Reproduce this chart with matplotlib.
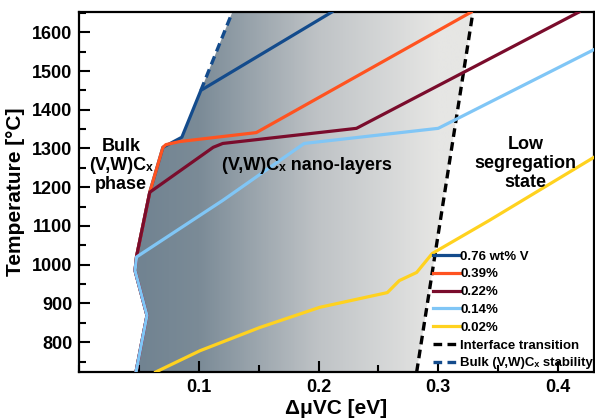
import numpy as np
import matplotlib
matplotlib.use("Agg")
import matplotlib.pyplot as plt
from matplotlib.patches import Polygon
from matplotlib.colors import LinearSegmentedColormap
from matplotlib.ticker import MultipleLocator

plt.rcParams['font.family'] = ['Liberation Sans', 'DejaVu Sans']
plt.rcParams['font.weight'] = 'bold'

# shared lower part of the left boundary (dmu in eV, T in C)
left_x = [0.0475, 0.0567, 0.0467, 0.048, 0.059]
left_t = [723, 869, 985, 1022, 1187]

v076_x = left_x + [0.070, 0.0858, 0.1017, 0.211]
v076_t = left_t + [1303, 1329, 1450, 1652]
v039_x = left_x + [0.070, 0.0725, 0.0842, 0.148, 0.3275]
v039_t = left_t + [1303, 1310, 1318, 1341, 1652]
v022_x = left_x + [0.112, 0.120, 0.2317, 0.4175]
v022_t = left_t + [1303, 1313, 1352, 1652]
v014_x = [0.0475, 0.0567, 0.0467, 0.048, 0.120, 0.188, 0.300, 0.430]
v014_t = [723, 869, 985, 1020, 1166, 1313, 1352, 1555]
v002_x = [0.064, 0.101, 0.151, 0.201, 0.2575, 0.2675, 0.282, 0.295, 0.3425, 0.430]
v002_t = [723, 778, 838, 890, 928, 959, 980, 1029, 1114, 1277]

interface_x = [0.282, 0.329]
interface_t = [723, 1652]
bulk_x = [0.1017, 0.128]
bulk_t = [1450, 1652]

series = [
    (v076_x, v076_t, '#134b8c', '0.76 wt% V'),
    (v039_x, v039_t, '#ff5320', '0.39%'),
    (v022_x, v022_t, '#7a0c2c', '0.22%'),
    (v014_x, v014_t, '#80c6f6', '0.14%'),
    (v002_x, v002_t, '#ffd21f', '0.02%'),
]

fig = plt.figure(figsize=(5.95, 4.18), dpi=100)
ax = fig.add_axes([0.133, 0.11, 0.865, 0.861])
ax.set_xlim(0, 0.43)
ax.set_ylim(723, 1652)

# gradient region between the bulk boundary and the interface transition
region = list(zip(left_x + [0.070, 0.0858, 0.1017, 0.128, 0.329, 0.282],
                  left_t + [1303, 1329, 1450, 1652, 1652, 723]))
poly = Polygon(region, closed=True, facecolor='none', edgecolor='none')
ax.add_patch(poly)
cmap = LinearSegmentedColormap.from_list('g', [(0.0, '#718391'), (0.2, '#7b8b97'),
                                               (0.6, '#bfc3c6'), (1.0, '#e6e6e4')])
xs = np.linspace(0, 0.43, 400)
grad = np.clip((xs - 0.05) / 0.25, 0, 1)[None, :]
im = ax.imshow(grad, extent=[0, 0.43, 723, 1652], aspect='auto', cmap=cmap,
               origin='lower', zorder=0)
im.set_clip_path(poly)

for x, t, c, lab in series:
    ax.plot(x, t, color=c, lw=2.3, label=lab, zorder=3)
ax.plot(interface_x, interface_t, color='black', lw=2.4, ls=(0, (2.6, 1.6)),
        label='Interface transition', zorder=2)
ax.plot(bulk_x, bulk_t, color='#134b8c', lw=2.4, ls=(0, (2.6, 1.6)),
        label='Bulk (V,W)Cₓ stability', zorder=2)

ax.text(0.035, 1256, 'Bulk\n(V,W)Cₓ\nphase', ha='center', va='center',
        fontsize=13, fontweight='bold', linespacing=1.15)
ax.text(0.19, 1256, '(V,W)Cₓ nano-layers', ha='center', va='center',
        fontsize=13, fontweight='bold')
ax.text(0.373, 1262, 'Low\nsegregation\nstate', ha='center', va='center',
        fontsize=13, fontweight='bold', linespacing=1.15)

ax.xaxis.set_major_locator(MultipleLocator(0.1))
ax.xaxis.set_minor_locator(MultipleLocator(0.05))
ax.yaxis.set_major_locator(MultipleLocator(100))
ax.yaxis.set_minor_locator(MultipleLocator(50))
ax.set_xticks([0.1, 0.2, 0.3, 0.4])
ax.set_xticklabels(['0.1', '0.2', '0.3', '0.4'])
ax.tick_params(which='both', direction='in', width=1.5, labelsize=13)
ax.tick_params(which='major', length=8, pad=5)
ax.tick_params(which='minor', length=5)
for s in ax.spines.values():
    s.set_linewidth(1.6)

ax.set_xlabel('ΔμVC [eV]', fontsize=15, fontweight='bold', labelpad=2)
ax.set_ylabel('Temperature [°C]', fontsize=15, fontweight='bold', labelpad=5)

ax.legend(loc='lower left', bbox_to_anchor=(0.683, 0.0), frameon=False,
          handlelength=2.0, handletextpad=0.05, labelspacing=0.42,
          borderaxespad=0.1, borderpad=0.1, prop={'weight': 'bold', 'size': 9.5})

fig.savefig('out.png', dpi=100)
